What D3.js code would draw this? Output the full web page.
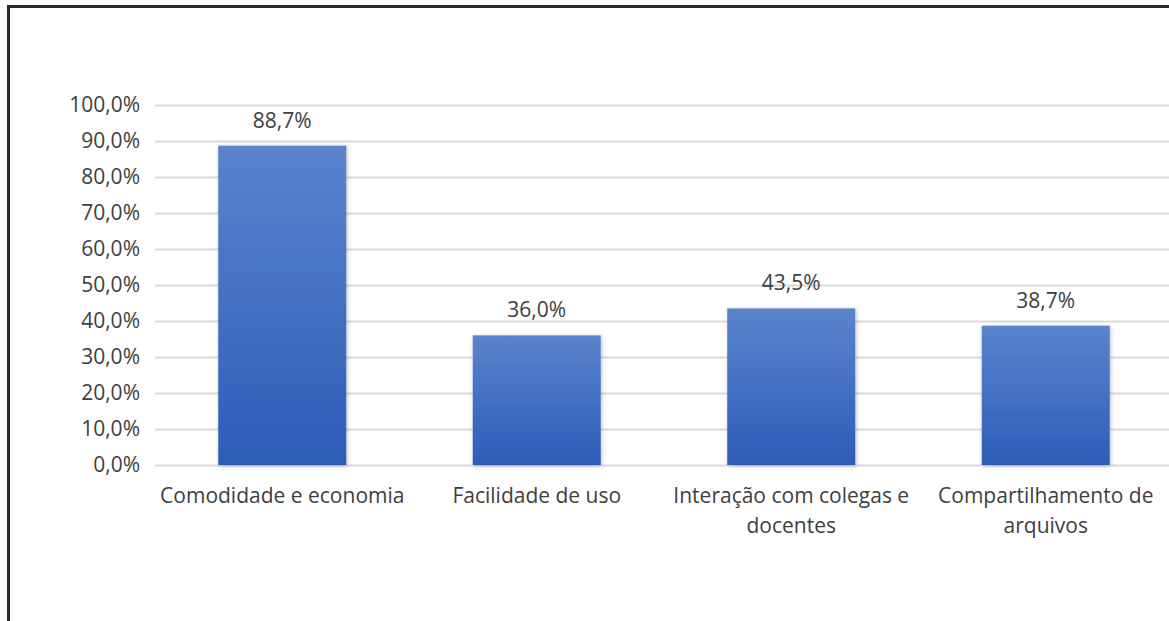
<!DOCTYPE html>
<html>
<head>
<meta charset="utf-8">
<script src="https://cdn.jsdelivr.net/npm/d3@7"></script>
<style>
  body { margin: 0; background: #fff; }
  svg { display: block; }
  svg text { font-family: "Open Sans", "Noto Sans", sans-serif; }
  .axis text { fill: #404040; font-size: 21px; }
  .axis path, .axis line { display: none; }
</style>
</head>
<body>
<svg width="1169" height="621"></svg>
<script>
let categories = ["Comodidade e economia", "Facilidade de uso", "Interação com colegas e docentes", "Compartilhamento de arquivos"],
    values = [88.7, 36.0, 43.5, 38.7],
    yTicks = [0, 10, 20, 30, 40, 50, 60, 70, 80, 90, 100];

let svg = d3.select("svg"),
    margin = { top: 105, right: -4, bottom: 156, left: 155 },
    width = +svg.attr("width") - margin.left - margin.right,
    height = +svg.attr("height") - margin.top - margin.bottom;

let fmt = v => d3.format(".1f")(v).replace(".", ",") + "%";

// frame (only top and left edges show)
svg.append("line").attr("x1", 7).attr("x2", 1169).attr("y1", 6.5).attr("y2", 6.5)
    .attr("stroke", "#2b2b2b").attr("stroke-width", 3);
svg.append("line").attr("x1", 8.5).attr("x2", 8.5).attr("y1", 5).attr("y2", 621)
    .attr("stroke", "#2b2b2b").attr("stroke-width", 3);

let defs = svg.append("defs");
let grad = defs.append("linearGradient").attr("id", "barGrad")
    .attr("x1", 0).attr("x2", 0).attr("y1", 0).attr("y2", 1);
grad.append("stop").attr("offset", "0%").attr("stop-color", "#5b83cd");
grad.append("stop").attr("offset", "100%").attr("stop-color", "#2d5db8");

let shadow = defs.append("filter").attr("id", "shadow")
    .attr("x", "-10%").attr("y", "-10%").attr("width", "130%").attr("height", "130%");
shadow.append("feDropShadow").attr("dx", 1).attr("dy", 1).attr("stdDeviation", 2)
    .attr("flood-color", "#000").attr("flood-opacity", 0.25);

let g = svg.append("g").attr("transform", `translate(${margin.left},${margin.top})`);

let x = d3.scaleBand().domain(categories).range([0, width]).paddingInner(0.497).paddingOuter(0.2485);
let y = d3.scaleLinear().domain([0, 100]).range([height, 0]);

// gridlines
g.append("g").selectAll("line").data(yTicks).join("line")
    .attr("x1", 0).attr("x2", width + 10)
    .attr("y1", d => Math.round(y(d)) + 0.5).attr("y2", d => Math.round(y(d)) + 0.5)
    .attr("stroke", "#d9d9d9").attr("stroke-width", 2);

g.append("g").attr("class", "axis")
    .call(d3.axisLeft(y).tickValues(yTicks).tickFormat(fmt).tickSize(0).tickPadding(15))
    .attr("font-family", null).attr("font-size", null);

// bars
g.append("g").selectAll("rect").data(values).join("rect")
    .attr("x", (d, i) => x(categories[i]))
    .attr("y", d => y(d))
    .attr("width", x.bandwidth())
    .attr("height", d => y(0) - y(d))
    .attr("fill", "url(#barGrad)")
    .attr("filter", "url(#shadow)");

// value labels
g.append("g").selectAll("text").data(values).join("text")
    .attr("x", (d, i) => x(categories[i]) + x.bandwidth() / 2)
    .attr("y", d => y(d) - 18)
    .attr("text-anchor", "middle")
    .attr("fill", "#404040").style("font-size", "21px")
    .text(fmt);

// x axis
g.append("g").attr("class", "axis")
    .attr("transform", `translate(0,${height})`)
    .call(d3.axisBottom(x).tickSize(0).tickPadding(23))
    .attr("font-family", null).attr("font-size", null)
    .selectAll("text").call(wrap, x.step() - 6);

function wrap(texts, w) {
    texts.each(function () {
        let text = d3.select(this),
            words = text.text().split(/\s+/),
            line = [],
            lineNo = 0,
            yy = text.attr("y"),
            dy = parseFloat(text.attr("dy")),
            tspan = text.text(null).append("tspan").attr("x", 0).attr("y", yy).attr("dy", dy + "em");
        for (let word of words) {
            line.push(word);
            tspan.text(line.join(" "));
            if (tspan.node().getComputedTextLength() > w && line.length > 1) {
                line.pop();
                tspan.text(line.join(" "));
                line = [word];
                tspan = text.append("tspan").attr("x", 0).attr("y", yy)
                    .attr("dy", ++lineNo * 1.43 + dy + "em").text(word);
            }
        }
    });
}
</script>
</body>
</html>
